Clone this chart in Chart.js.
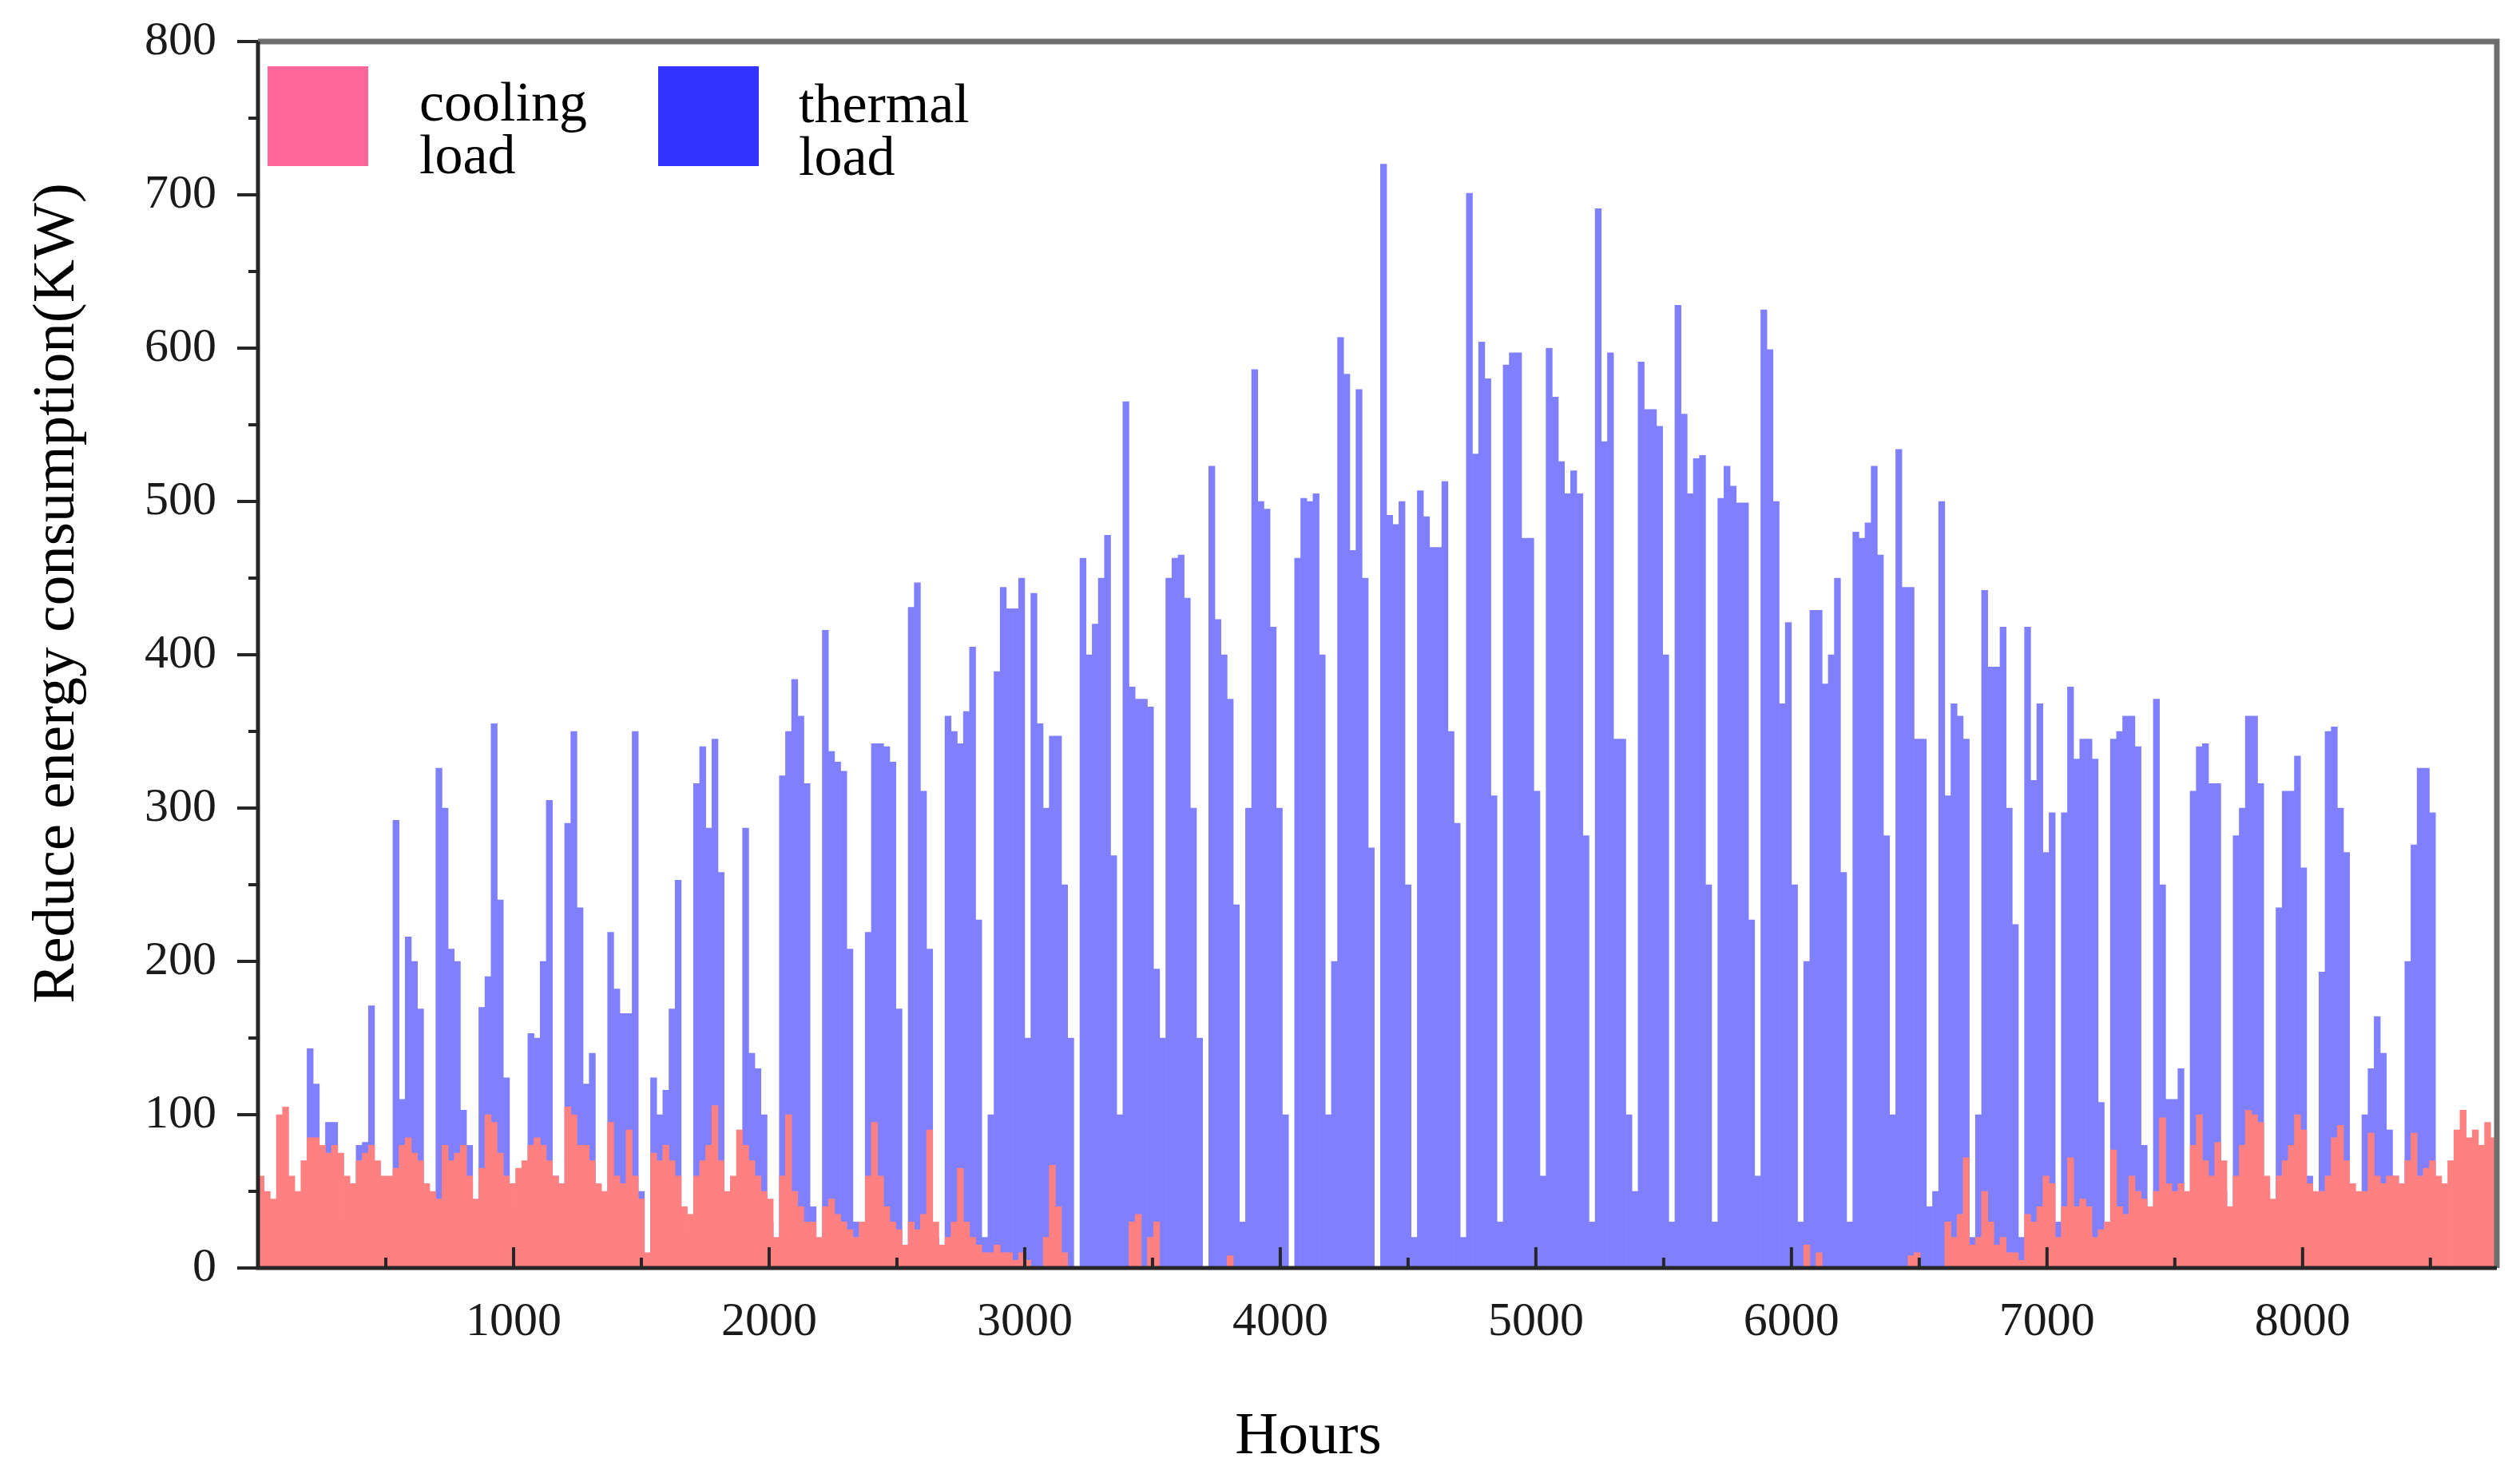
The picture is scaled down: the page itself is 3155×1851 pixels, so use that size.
<!DOCTYPE html>
<html>
<head>
<meta charset="utf-8">
<script src="https://cdn.jsdelivr.net/npm/chart.js@4.4.0/dist/chart.umd.min.js"></script>
<style>
  html, body { margin: 0; padding: 0; background: #fff; }
</style>
</head>
<body>
<canvas id="myChart" width="3155" height="1851"></canvas>
<script>
// daily values (one per day of the year, 24 h each)
var thermalLoad = [
    0,0,0,0,0,0,0,0,
    143,120,60,95,95,30,0,0,
    80,82,171,40,0,0,
    292,110,216,200,169,40,0,
    326,300,208,200,103,80,0,
    170,190,355,240,124,40,0,
    60,153,150,200,305,60,20,
    290,350,235,120,140,40,0,
    219,182,166,166,350,50,
    0,124,100,116,169,253,20,10,
    316,340,287,345,258,20,0,
    60,287,140,130,100,30,0,
    321,350,384,360,316,40,0,
    416,337,330,324,208,30,0,
    219,342,342,340,330,169,0,
    431,447,311,208,20,0,
    360,350,342,363,405,227,20,
    100,389,444,430,430,
    450,150,440,355,300,347,347,250,150,0,
    463,400,420,450,478,269,100,
    565,379,371,371,366,195,150,
    450,463,465,437,300,150,0,
    523,423,400,371,237,30,
    300,586,500,495,418,300,100,0,
    463,502,500,505,400,100,200,
    607,583,468,573,450,274,0,
    720,491,485,500,250,20,
    507,490,470,470,513,350,290,20,
    701,531,604,580,308,30,
    589,597,597,476,476,311,60,
    600,568,526,505,520,505,282,30,
    691,539,597,345,345,100,50,
    591,560,560,549,400,30,
    628,557,505,528,530,250,30,
    502,523,510,499,499,227,60,
    625,599,500,368,421,250,30,
    200,429,429,381,400,450,258,30,
    480,476,486,523,465,282,100,
    534,444,444,345,345,40,50,
    500,308,368,360,345,20,100,
    442,392,392,418,300,224,20,
    418,318,368,271,297,30,
    297,379,332,345,345,332,108,0,
    345,350,360,360,340,80,20,
    371,250,110,110,130,30,
    311,340,342,316,316,50,20,
    282,300,360,360,316,50,20,
    235,311,311,334,261,60,30,
    193,350,353,300,271,40,20,
    100,130,164,140,90,60,40,
    200,276,326,326,297,
    0,0,0,0,0,0,0,0,0,0
];
var coolingLoad = [
    60,50,45,100,105,60,50,70,85,85,80,75,80,75,60,55,
    70,75,80,70,60,60,65,80,85,75,70,55,50,45,80,70,
    75,80,60,45,65,100,95,75,60,55,65,70,80,85,80,70,
    60,55,105,100,80,80,70,55,50,95,60,55,90,60,45,
    10,75,70,80,70,60,40,35,60,70,80,106,70,50,60,90,80,
    70,60,50,45,20,60,100,50,40,30,30,20,40,45,35,30,
    25,20,30,60,95,60,40,30,25,15,30,25,35,90,30,15,
    20,30,65,30,20,15,10,10,15,10,10,5,
    10,5,0,0,20,67,40,10,0,0,0,0,0,0,0,0,0,0,30,35,
    0,20,30,0,0,0,0,0,0,0,0,0,0,0,8,0,0,0,0,0,
    0,0,0,0,0,0,0,0,0,0,0,0,0,0,0,0,0,0,0,0,
    0,0,0,0,0,0,0,0,0,0,0,0,0,0,0,0,0,0,0,0,
    0,0,0,0,0,0,0,0,0,0,0,0,0,0,0,0,0,0,0,0,
    0,0,0,0,0,0,0,0,0,0,0,0,0,0,0,0,0,0,0,0,
    0,0,0,0,0,0,0,0,15,0,10,0,0,0,0,0,0,0,0,0,
    0,0,0,0,0,8,10,0,0,0,0,30,20,35,72,15,20,50,30,15,
    20,10,10,5,35,30,40,60,55,20,40,72,40,45,40,20,25,30,77,40,
    35,60,50,45,40,50,98,55,50,55,50,80,100,70,60,82,70,40,60,80,
    103,100,95,60,45,60,70,80,100,90,55,50,50,60,85,93,70,55,50,50,
    88,60,55,60,60,55,70,88,60,65,70,60,55,70,90,103,85,90,80,95,85
];
var hourLabels = [1000, 2000, 3000, 4000, 5000, 6000, 7000, 8000];
var loadLabels = [0, 100, 200, 300, 400, 500, 600, 700, 800];
var seriesNames = ['cooling load', 'thermal load'];
var xTitle = 'Hours';
var yTitle = 'Reduce energy consumption(KW)';

var serif = "'Liberation Serif', 'Times New Roman', serif";
Chart.defaults.font.family = serif;

// each day sits in the middle of its 24 hours
function toPoints(arr) {
    return arr.map(function (v, i) { return { x: i * 24 + 12, y: v }; });
}

// frame, tick marks, legend and axis titles
var decor = {
    id: 'decor',
    afterDatasetsDraw: function (chart) {
        var c = chart.ctx, a = chart.chartArea;
        var xs = chart.scales.x, ys = chart.scales.y;
        c.save();
        c.strokeStyle = '#6e6e6e';
        c.lineWidth = 7;
        c.beginPath();
        c.moveTo(a.left, a.top);
        c.lineTo(a.right, a.top);
        c.lineTo(a.right, a.bottom);
        c.stroke();
        c.strokeStyle = '#262626';
        c.lineWidth = 5;
        c.beginPath();
        c.moveTo(a.left, a.top);
        c.lineTo(a.left, a.bottom);
        c.lineTo(a.right, a.bottom);
        c.stroke();
        c.lineWidth = 4;
        for (var h = 500; h < 8760; h += 500) {
            var px = xs.getPixelForValue(h);
            var len = (h % 1000 === 0) ? 26 : 13;
            c.beginPath();
            c.moveTo(px, a.bottom);
            c.lineTo(px, a.bottom - len);
            c.stroke();
        }
        for (var v = 0; v <= 800; v += 50) {
            var py = ys.getPixelForValue(v);
            var l2 = (v % 100 === 0) ? 26 : 12;
            c.beginPath();
            c.moveTo(a.left, py);
            c.lineTo(a.left - l2, py);
            c.stroke();
        }
        c.restore();
    },
    afterDraw: function (chart) {
        var c = chart.ctx, a = chart.chartArea;
        var ds = chart.data.datasets;
        c.save();
        // legend
        var boxX = [a.left + 12, a.left + 501];
        var textX = [a.left + 202, a.left + 677];
        var base = [a.top + 99, a.top + 101];
        c.font = '70px ' + serif;
        c.textBaseline = 'alphabetic';
        c.textAlign = 'left';
        for (var i = 0; i < ds.length; i++) {
            c.fillStyle = ds[i].legendColor;
            c.fillRect(boxX[i], a.top + 31, 126, 125);
            c.fillStyle = '#000';
            var words = ds[i].label.split(' ');
            for (var j = 0; j < words.length; j++) {
                c.fillText(words[j], textX[i], base[i] + j * 66);
            }
        }
        // axis titles
        c.font = '75px ' + serif;
        c.textAlign = 'center';
        c.fillText(xTitle, 1638, 1820);
        c.translate(72, 743);
        c.rotate(-Math.PI / 2);
        c.textBaseline = 'middle';
        c.fillText(yTitle, 0, 0);
        c.restore();
    }
};

const ctx = document.getElementById('myChart');
const myChart = new Chart(ctx, {
    type: 'bar',
    data: {
        datasets: [{
            label: seriesNames[0],
            data: toPoints(coolingLoad),
            backgroundColor: '#FF8080',
            legendColor: '#FF6699',
            borderWidth: 0,
            grouped: false,
            barPercentage: 1.0,
            categoryPercentage: 1.0,
            order: 1
        }, {
            label: seriesNames[1],
            data: toPoints(thermalLoad),
            backgroundColor: '#8080FF',
            legendColor: '#3333FF',
            borderWidth: 0,
            grouped: false,
            barPercentage: 1.0,
            categoryPercentage: 1.0,
            order: 2
        }]
    },
    options: {
        responsive: false,
        animation: false,
        devicePixelRatio: 1,
        layout: { padding: { top: 52, right: 29, left: 0, bottom: 0 } },
        plugins: {
            legend: { display: false },
            tooltip: { enabled: false }
        },
        scales: {
            x: {
                type: 'linear',
                min: 0,
                max: 8760,
                offset: false,
                grid: { display: false, drawTicks: false },
                border: { display: false },
                afterBuildTicks: function (s) {
                    s.ticks = hourLabels.map(function (v) { return { value: v }; });
                },
                ticks: {
                    autoSkip: false,
                    maxRotation: 0,
                    padding: 32,
                    color: '#1a1a1a',
                    font: { size: 60 },
                    callback: function (value) { return String(value); }
                },
                afterFit: function (s) {
                    s.height = 1851 - 1588;
                    s.paddingLeft = 0;
                    s.paddingRight = 0;
                }
            },
            y: {
                min: 0,
                max: 800,
                grid: { display: false, drawTicks: false },
                border: { display: false },
                afterBuildTicks: function (s) {
                    s.ticks = loadLabels.map(function (v) { return { value: v }; });
                },
                ticks: {
                    padding: 52,
                    color: '#1a1a1a',
                    font: { size: 60 },
                    callback: function (value) { return String(value); }
                },
                afterFit: function (s) {
                    s.width = 323;
                    s.paddingTop = 0;
                    s.paddingBottom = 0;
                }
            }
        }
    },
    plugins: [decor]
});
</script>
</body>
</html>
